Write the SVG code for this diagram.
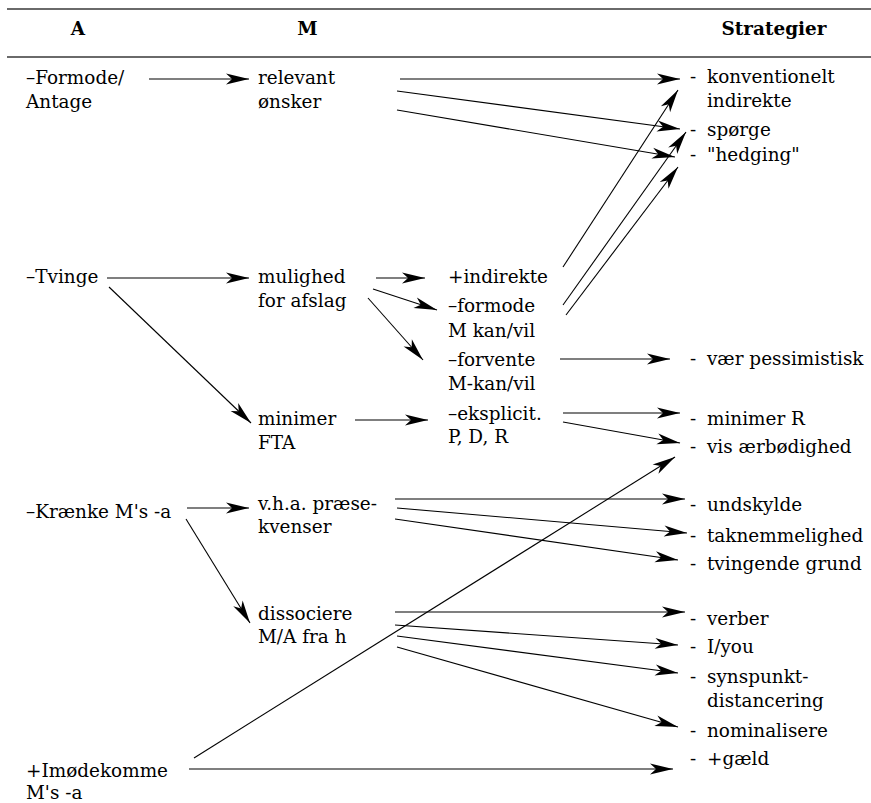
<svg xmlns="http://www.w3.org/2000/svg" width="871" height="803" viewBox="0 0 871 803">
<style>
text{font-family:"DejaVu Serif",serif;font-size:19px;fill:#000}
.h{font-weight:bold;text-anchor:middle}
.rule{stroke:#6a6a6a;stroke-width:2;fill:none}
.c line{stroke:#000;stroke-width:1.1;fill:none;marker-end:url(#ah)}
</style>
<defs>
<marker id="ah" markerUnits="userSpaceOnUse" orient="auto" viewBox="-24 -7 25 14" refX="0" refY="0" markerWidth="25" markerHeight="14" overflow="visible">
<path d="M0,0 L-23,-5.5 L-17,0 L-23,5.5 Z" fill="#000"/>
</marker>
</defs>
<rect width="871" height="803" fill="#fff"/>
<line class="rule" x1="7" y1="9" x2="871" y2="9"/>
<line class="rule" x1="7" y1="57" x2="871" y2="57"/>
<g id="headers">
<g transform="translate(78,35) scale(0.97,1)"><text class="h" x="0" y="0">A</text></g>
<g transform="translate(307.5,35) scale(0.97,1)"><text class="h" x="0" y="0">M</text></g>
<g transform="translate(774,35) scale(0.97,1)"><text class="h" x="0" y="0">Strategier</text></g>
</g>
<g id="a-formode" transform="translate(26,84) scale(0.97,1)"><text x="0" y="0">–Formode/</text><text x="0" y="24">Antage</text></g>
<g id="a-tvinge" transform="translate(26,283) scale(0.97,1)"><text x="0" y="0">–Tvinge</text></g>
<g id="a-kraenke" transform="translate(26,518) scale(0.97,1)"><text x="0" y="0">–Krænke M's -a</text></g>
<g id="a-imodekomme" transform="translate(26,777) scale(0.97,1)"><text x="0" y="0">+Imødekomme</text><text x="0" y="22">M's -a</text></g>
<g id="m-relevant" transform="translate(258,84) scale(0.97,1)"><text x="0" y="0">relevant</text><text x="0" y="24">ønsker</text></g>
<g id="m-mulighed" transform="translate(258,283) scale(0.97,1)"><text x="0" y="0">mulighed</text><text x="0" y="24">for afslag</text></g>
<g id="m-minimer" transform="translate(258,425) scale(0.97,1)"><text x="0" y="0">minimer</text><text x="0" y="24">FTA</text></g>
<g id="m-vha" transform="translate(258,510) scale(0.97,1)"><text x="0" y="0">v.h.a. præse-</text><text x="0" y="23">kvenser</text></g>
<g id="m-dissociere" transform="translate(258,620) scale(0.97,1)"><text x="0" y="0">dissociere</text><text x="0" y="23">M/A fra h</text></g>
<g id="s-indirekte" transform="translate(448,283) scale(0.97,1)"><text x="0" y="0">+indirekte</text></g>
<g id="s-formode" transform="translate(448,312) scale(0.97,1)"><text x="0" y="0">–formode</text><text x="0" y="25">M kan/vil</text></g>
<g id="s-forvente" transform="translate(448,366) scale(0.97,1)"><text x="0" y="0">–forvente</text><text x="0" y="24">M-kan/vil</text></g>
<g id="s-eksplicit" transform="translate(448,420) scale(0.97,1)"><text x="0" y="0">–eksplicit.</text><text x="0" y="23">P, D, R</text></g>
<g id="t-konventionelt" transform="translate(690,83) scale(0.97,1)"><text x="0" y="0">-</text><text x="17.5" y="0">konventionelt</text><text x="17.5" y="24">indirekte</text></g>
<g id="t-sporge" transform="translate(690,136) scale(0.97,1)"><text x="0" y="0">-</text><text x="17.5" y="0">spørge</text></g>
<g id="t-hedging" transform="translate(690,161) scale(0.97,1)"><text x="0" y="0">-</text><text x="17.5" y="0">"hedging"</text></g>
<g id="t-pessimistisk" transform="translate(690,365) scale(0.97,1)"><text x="0" y="0">-</text><text x="17.5" y="0">vær pessimistisk</text></g>
<g id="t-minimerR" transform="translate(690,425) scale(0.97,1)"><text x="0" y="0">-</text><text x="17.5" y="0">minimer R</text></g>
<g id="t-aerbodighed" transform="translate(690,453) scale(0.97,1)"><text x="0" y="0">-</text><text x="17.5" y="0">vis ærbødighed</text></g>
<g id="t-undskylde" transform="translate(690,511) scale(0.97,1)"><text x="0" y="0">-</text><text x="17.5" y="0">undskylde</text></g>
<g id="t-taknemmelighed" transform="translate(690,542) scale(0.97,1)"><text x="0" y="0">-</text><text x="17.5" y="0">taknemmelighed</text></g>
<g id="t-tvingende" transform="translate(690,570) scale(0.97,1)"><text x="0" y="0">-</text><text x="17.5" y="0">tvingende grund</text></g>
<g id="t-verber" transform="translate(690,625) scale(0.97,1)"><text x="0" y="0">-</text><text x="17.5" y="0">verber</text></g>
<g id="t-iyou" transform="translate(690,653) scale(0.97,1)"><text x="0" y="0">-</text><text x="17.5" y="0">I/you</text></g>
<g id="t-synspunkt" transform="translate(690,683) scale(0.97,1)"><text x="0" y="0">-</text><text x="17.5" y="0">synspunkt-</text><text x="17.5" y="24">distancering</text></g>
<g id="t-nominalisere" transform="translate(690,737) scale(0.97,1)"><text x="0" y="0">-</text><text x="17.5" y="0">nominalisere</text></g>
<g id="t-gaeld" transform="translate(690,765) scale(0.97,1)"><text x="0" y="0">-</text><text x="17.5" y="0">+gæld</text></g>
<g id="connectors" class="c">
<line x1="149" y1="79" x2="249" y2="79"/>
<line x1="400" y1="79" x2="680" y2="79"/>
<line x1="397" y1="91" x2="680" y2="129"/>
<line x1="397" y1="110" x2="675" y2="157"/>
<line x1="107" y1="278" x2="249" y2="278"/>
<line x1="109" y1="287" x2="251" y2="423"/>
<line x1="376" y1="278" x2="425" y2="278"/>
<line x1="373" y1="289" x2="437" y2="310"/>
<line x1="368" y1="298" x2="423" y2="360"/>
<line x1="355" y1="420" x2="428" y2="420"/>
<line x1="563" y1="267" x2="678" y2="90"/>
<line x1="563" y1="305" x2="686" y2="132"/>
<line x1="566" y1="315" x2="678" y2="167"/>
<line x1="560" y1="359" x2="670" y2="359"/>
<line x1="563" y1="413" x2="680" y2="413"/>
<line x1="563" y1="422" x2="680" y2="443"/>
<line x1="187" y1="508" x2="249" y2="508"/>
<line x1="186" y1="519" x2="250" y2="623"/>
<line x1="395" y1="499" x2="685" y2="499"/>
<line x1="397" y1="508" x2="687" y2="533"/>
<line x1="395" y1="519" x2="678" y2="560"/>
<line x1="395" y1="612" x2="685" y2="612"/>
<line x1="395" y1="625" x2="678" y2="645"/>
<line x1="397" y1="636" x2="678" y2="673"/>
<line x1="397" y1="647" x2="678" y2="727"/>
<line x1="194" y1="758" x2="675" y2="457"/>
<line x1="189" y1="769" x2="673" y2="769"/>
</g>
</svg>
